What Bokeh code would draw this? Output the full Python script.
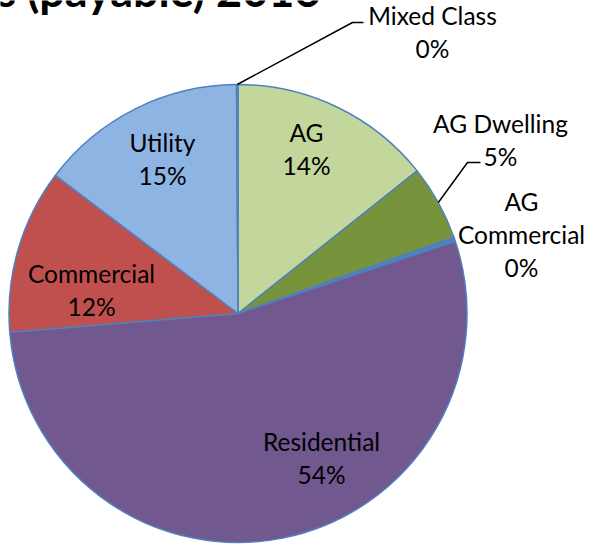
import math
from bokeh.plotting import figure
from bokeh.models import Range1d, ColumnDataSource
from bokeh.core.properties import value
from bokeh.embed import file_html
from bokeh.resources import INLINE

# ---- data (clockwise from 12 o'clock) ----
categories = ["AG", "AG Dwelling", "AG Commercial", "Residential", "Commercial", "Utility", "Mixed Class"]
shares = [14.3, 5.3, 0.3, 53.8, 11.6, 14.6, 0.1]
colors = ["#C3D69B", "#77933C", "#4F81BD", "#71588F", "#C0504D", "#8EB4E3", "#558ED5"]
title_text = "s (payable) 2016"

W, H = 590, 545
CX, CY, R = 237.5, 313.0, 229.0   # page pixels
FONT = "Lato"
FS = "24.5px"


def py(y):
    return H - y


p = figure(width=W, height=H, output_backend="svg", toolbar_location=None,
           x_range=Range1d(0, W), y_range=Range1d(0, H), min_border=0)
p.axis.visible = False
p.grid.visible = False
p.outline_line_color = None
p.background_fill_color = "white"

total = sum(shares)
starts, ends, mids = [], [], []
cum = 0.0
for v in shares:
    a0 = cum / total
    cum += v
    a1 = cum / total
    starts.append(math.pi / 2 - 2 * math.pi * a0)
    ends.append(math.pi / 2 - 2 * math.pi * a1)
    mids.append((a0 + a1) / 2)

src = ColumnDataSource(dict(cat=categories, start=starts, end=ends, color=colors))
p.wedge(x=CX, y=py(CY), radius=R, radius_units="data", start_angle="start", end_angle="end",
        direction="clock", fill_color="color", line_color="#4F81BD", line_width=1.5, source=src)

labels = [f"{round(v / total * 100)}%" for v in shares]

# label layout: (x, y of first line, names split into lines)
layout = {
    "AG": (306, 132, ["AG"]),
    "AG Dwelling": (500, 123, ["AG Dwelling"]),
    "AG Commercial": (521, 201, ["AG", "Commercial"]),
    "Residential": (321, 441, ["Residential"]),
    "Commercial": (91, 273, ["Commercial"]),
    "Utility": (162, 142, ["Utility"]),
    "Mixed Class": (432, 15, ["Mixed Class"]),
}
LS = 33
tx, ty, tt = [], [], []
for cat, lab in zip(categories, labels):
    x, y, lines = layout[cat]
    for i, ln in enumerate(lines + [lab]):
        tx.append(x)
        ty.append(py(y + i * LS))
        tt.append(ln)
p.text(x=tx, y=ty, text=tt, text_font=value(FONT), text_font_size=FS, text_color="#000000",
       text_align="center", text_baseline="middle")

# leader lines for the outside labels
elbows = {"Mixed Class": [(352, 22), (363, 22)], "AG Dwelling": [(467, 162), (480, 162)]}
for cat, pts in elbows.items():
    m = mids[categories.index(cat)]
    sx = CX + R * math.sin(2 * math.pi * m)
    sy = CY - R * math.cos(2 * math.pi * m)
    xs = [sx] + [q[0] for q in pts]
    ys = [py(sy)] + [py(q[1]) for q in pts]
    p.line(xs, ys, line_color="black", line_width=1.5)

# clipped chart title (only its lower part shows, as in the reference)
p.text(x=[320], y=[py(-11)], text=[title_text], text_font=value(FONT), text_font_size="45px",
       text_font_style="bold", text_color="black", text_align="right", text_baseline="alphabetic")

open("out.html", "w").write(file_html(p, INLINE))
